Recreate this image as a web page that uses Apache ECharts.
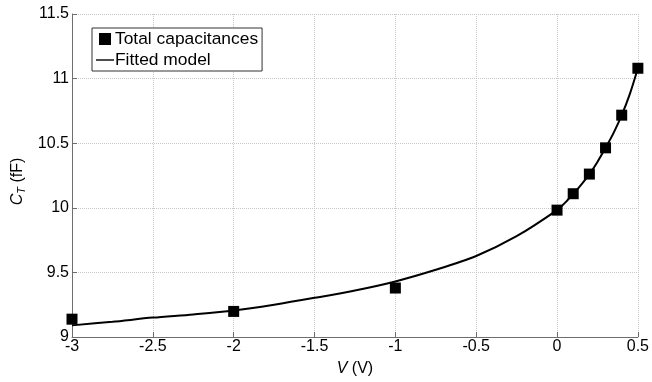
<!DOCTYPE html>
<html>
<head>
<meta charset="utf-8">
<script src="https://cdn.jsdelivr.net/npm/echarts@6/dist/echarts.min.js"></script>
<style>
  html, body { margin: 0; padding: 0; background: #fff; }
  #chart { width: 652px; height: 382px; }
</style>
</head>
<body>
<div id="chart"></div>
<script>
// Measured total capacitance C_T (fF) versus bias V (V)
const measuredV = [-3, -2, -1, 0, 0.1, 0.2, 0.3, 0.4, 0.5];
const measuredC = [9.138, 9.198, 9.379, 9.982, 10.109, 10.261, 10.464, 10.717, 11.08];

// Fitted model curve, sampled along the bias range
const modelV = [-3, -2.75, -2.5, -2.25, -2, -1.75, -1.5, -1.25, -1, -0.75, -0.5, -0.25, 0, 0.05, 0.1, 0.15, 0.2, 0.25, 0.3, 0.35, 0.4, 0.45, 0.5];
const modelC = [9.09, 9.118, 9.15, 9.175, 9.205, 9.25, 9.303, 9.36, 9.43, 9.52, 9.627, 9.78, 9.982, 10.04, 10.109, 10.18, 10.261, 10.355, 10.464, 10.58, 10.717, 10.88, 11.08];

const xTicks = { min: -3, max: 0.5, step: 0.5 };
const yTicks = { min: 9, max: 11.5, step: 0.5 };

const font = 'Liberation Sans, Arial, sans-serif';
const axisGrey = '#6e6e6e';
const gridStyle = { type: 'dotted', color: '#c8c8c8', width: 1 };

const chart = echarts.init(document.getElementById('chart'), null, { renderer: 'canvas' });
chart.setOption({
  animation: false,
  backgroundColor: '#fff',
  textStyle: { fontFamily: font },
  grid: { left: 72, right: 12, top: 14, bottom: 39, containLabel: false },
  legend: {
    orient: 'vertical',
    left: 92,
    top: 28,
    padding: [1, 4, 1, 4],
    itemGap: 1,
    itemWidth: 18,
    itemHeight: 12,
    symbolKeepAspect: true,
    borderColor: '#333',
    borderWidth: 1,
    borderRadius: 0,
    backgroundColor: '#fff',
    textStyle: { fontFamily: font, fontSize: 17.4, lineHeight: 20, color: '#000', padding: [0, 0, 0, -4] },
    data: [
      { name: 'Total capacitances', icon: 'path://M0,0H12V12H0Z', itemStyle: { color: '#000', opacity: 1 } },
      { name: 'Fitted model', icon: 'path://M0,0H18V1.4H0Z', itemStyle: { color: '#000' } }
    ]
  },
  xAxis: {
    type: 'value',
    min: xTicks.min, max: xTicks.max, interval: xTicks.step,
    name: '{i|V} (V)',
    nameLocation: 'middle',
    nameGap: 24,
    nameTextStyle: {
      fontFamily: font, fontSize: 16, color: '#000',
      rich: { i: { fontStyle: 'italic', fontFamily: font, fontSize: 16, color: '#000' } }
    },
    axisLine: { onZero: false, lineStyle: { color: axisGrey, width: 1 } },
    axisTick: { inside: true, length: 5, lineStyle: { color: axisGrey } },
    axisLabel: { fontFamily: font, fontSize: 16, color: '#000', margin: 2 },
    splitLine: { show: true, lineStyle: gridStyle }
  },
  yAxis: {
    type: 'value',
    min: yTicks.min, max: yTicks.max, interval: yTicks.step,
    name: '{i|C}{s|T} (fF)',
    nameLocation: 'middle',
    nameRotate: 90,
    nameGap: 43,
    nameTextStyle: {
      fontFamily: font, fontSize: 16, color: '#000',
      padding: [0, 12, 0, 0],
      rich: {
        i: { fontStyle: 'italic', fontFamily: font, fontSize: 16, color: '#000' },
        s: { fontStyle: 'italic', fontFamily: font, fontSize: 11, color: '#000', padding: [8, 0, 0, 0] }
      }
    },
    axisLine: { show: true, onZero: false, lineStyle: { color: axisGrey, width: 1 } },
    axisTick: { show: true, inside: true, length: 5, lineStyle: { color: axisGrey } },
    axisLabel: { fontFamily: font, fontSize: 16, color: '#000', margin: 3 },
    splitLine: { show: true, lineStyle: gridStyle }
  },
  series: [
    {
      name: 'Fitted model',
      type: 'line',
      data: modelV.map((v, i) => [v, modelC[i]]),
      smooth: 0.3,
      showSymbol: false,
      symbol: 'none',
      lineStyle: { color: '#000', width: 2 },
      itemStyle: { color: '#000' },
      z: 2
    },
    {
      name: 'Total capacitances',
      type: 'scatter',
      data: measuredV.map((v, i) => [v, measuredC[i]]),
      symbol: 'rect',
      symbolSize: 11,
      itemStyle: { color: '#000', opacity: 1 },
      z: 3
    }
  ]
});
</script>
</body>
</html>
